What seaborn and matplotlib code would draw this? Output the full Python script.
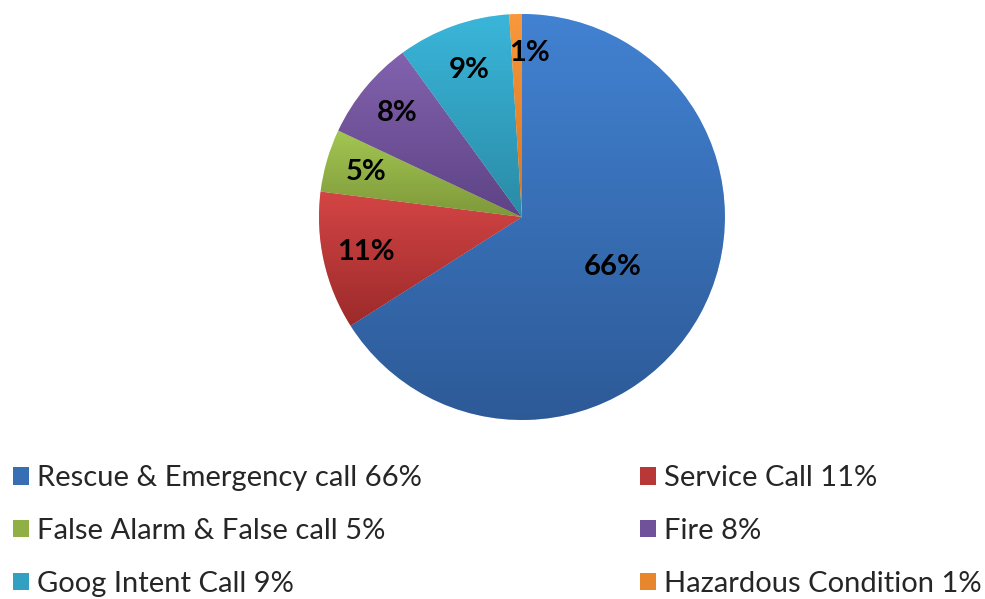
import matplotlib
matplotlib.use("Agg")
import matplotlib.pyplot as plt
import matplotlib.colors as mcolors
from matplotlib.patches import Patch
import numpy as np
import seaborn as sns

categories = ['Rescue & Emergency call', 'Service Call', 'False Alarm & False call',
              'Fire', 'Goog Intent Call', 'Hazardous Condition']
shares = [66, 11, 5, 8, 9, 1]

# light (top) / dark (bottom) ends of each slice's gradient
tops = ['#4282D2', '#D44545', '#A3C652', '#8262AE', '#3AB6DA', '#FA983C']
bottoms = ['#2D5A97', '#9C2A2A', '#7E993A', '#5E4385', '#2A8BA6', '#D67320']
label_r = [0.51, 0.79, 0.80, 0.80, 0.77, 0.81]
label_shift = [0, 0, 0, 0, 0, -4.5]  # degrees

sns.set_theme(style="white")
plt.rcParams['font.family'] = ['Lato', 'DejaVu Sans']

fig = plt.figure(figsize=(9.85, 5.99), dpi=100)
ax = fig.add_axes([0.3218, 0.2955, 0.4162, 0.6845])

wedges, texts, autotexts = ax.pie(
    shares, startangle=90, counterclock=False, radius=1,
    colors=tops, autopct='%1.0f%%', pctdistance=0.6,
    wedgeprops=dict(linewidth=0.4, edgecolor='white'),
    textprops=dict(fontsize=21, fontweight='bold', color='black'))
ax.set_aspect('equal')
ax.axis('off')

# vertical gradient inside each slice
for w, c0, c1 in zip(wedges, tops, bottoms):
    ys = w.get_path().vertices[:, 1]
    y0, y1 = ys.min(), ys.max()
    cmap = mcolors.LinearSegmentedColormap.from_list('g', [c1, c0])
    grad = np.linspace(0, 1, 256).reshape(-1, 1)
    im = ax.imshow(grad, cmap=cmap, origin='lower', aspect='auto',
                   extent=[-1, 1, y0, y1], zorder=w.get_zorder() + 0.1)
    im.set_clip_path(w)

for w, t, r, d in zip(wedges, autotexts, label_r, label_shift):
    ang = np.deg2rad((w.theta1 + w.theta2) / 2 + d)
    t.set_position((r * np.cos(ang), r * np.sin(ang)))
    t.set_zorder(5)

ax.set_xlim(-1.01, 1.01)
ax.set_ylim(-1.01, 1.01)

mids = [mcolors.to_hex(np.mean([mcolors.to_rgb(a), mcolors.to_rgb(b)], axis=0))
        for a, b in zip(tops, bottoms)]
handles = [Patch(facecolor=m, edgecolor='none') for m in mids]
labels = [f'{c} {s}%' for c, s in zip(categories, shares)]
order = [0, 2, 4, 1, 3, 5]
fig.legend([handles[i] for i in order], [labels[i] for i in order],
           ncol=2, loc='lower left', bbox_to_anchor=(0.004, -0.011),
           frameon=False, fontsize=21, handlelength=0.55, handleheight=0.55,
           handletextpad=0.3, columnspacing=7.45, labelspacing=0.92,
           borderaxespad=0.0, borderpad=0.3)

fig.savefig('out.png', dpi=100, facecolor='white')
